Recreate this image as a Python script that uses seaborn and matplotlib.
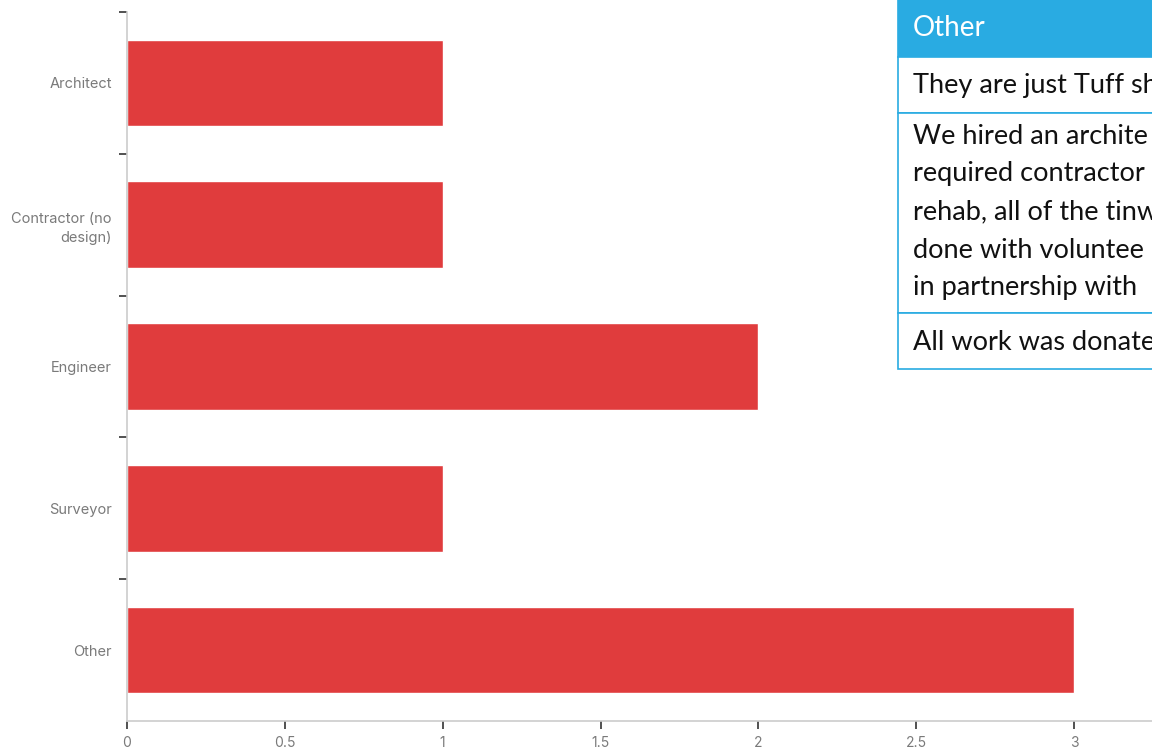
import matplotlib
matplotlib.use("Agg")
import matplotlib.pyplot as plt
from matplotlib.patches import Rectangle
import numpy as np
import pandas as pd
import seaborn as sns

# Survey responses: who designed the project
categories = ["Architect", "Contractor (no\ndesign)", "Engineer", "Surveyor", "Other"]
counts = [1, 1, 2, 1, 3]
x_ticks = [0, 0.5, 1, 1.5, 2, 2.5, 3]
x_tick_labels = ["0", "0.5", "1", "1.5", "2", "2.5", "3"]

# Free-text answers for "Other" (one list of lines per response)
other_header = "Other"
other_answers = [
    ["They are just Tuff sh"],
    ["We hired an archite",
     "required contractor",
     "rehab, all of the tinw",
     "done with voluntee",
     "in partnership with"],
    ["All work was donate"],
]

BAR_RED = "#E03C3D"
HEAD_BLUE = "#29ABE2"
LABEL_GREY = "#7a7a7a"

sns.set_style("white")
plt.rcParams["font.family"] = ["Inter", "DejaVu Sans"]

fig = plt.figure(figsize=(11.52, 7.48), dpi=100)
ax = fig.add_axes([127 / 1152, 27 / 748, 1 - 127 / 1152, 709 / 748])

df = pd.DataFrame({"category": categories, "count": counts})
sns.barplot(data=df, x="count", y="category", orient="h", color=BAR_RED,
            saturation=1, width=0.61, ax=ax)

ax.set_xlim(0, (1152 - 127) / (1074 - 127) * 3)
ax.set_ylim(len(categories) - 0.5, -0.5)
ax.set_xlabel("")
ax.set_ylabel("")

# x axis
ax.set_xticks(x_ticks)
ax.set_xticklabels(x_tick_labels)
ax.tick_params(axis="x", which="major", length=6, width=1.2, color="#333333",
               labelcolor=LABEL_GREY, labelsize=10, pad=5, direction="out", bottom=True)

# y axis: tick marks between categories, labels centred on bars
ax.set_yticks(np.arange(-0.5, len(categories) - 1, 1.0))
ax.set_yticklabels([])
ax.tick_params(axis="y", which="major", length=6, width=1.2, color="#333333",
               direction="out", left=True)
ax.set_yticks(np.arange(len(categories)), minor=True)
ax.set_yticklabels(categories, minor=True)
ax.tick_params(axis="y", which="minor", length=0, labelcolor=LABEL_GREY,
               labelsize=10.5, pad=11)
for lbl in ax.get_yticklabels(minor=True):
    lbl.set_horizontalalignment("right")
    lbl.set_multialignment("right")
    lbl.set_linespacing(1.45)

for side in ["top", "right"]:
    ax.spines[side].set_visible(False)
for side in ["left", "bottom"]:
    ax.spines[side].set_color("#cccccc")
    ax.spines[side].set_linewidth(1.2)

# "Other" responses table overlaid on the right
W, H = 1152.0, 748.0
tx0 = 898
rows = [(0, 57), (57, 113), (113, 313), (313, 369)]
first_line = [85, 136, 342]
line_step = 38


def fx(px):
    return px / W


def fy(py):
    return 1 - py / H


head_top, head_bot = rows[0]
fig.patches.append(Rectangle((fx(tx0), fy(head_bot)), 1 - fx(tx0), (head_bot - head_top) / H,
                             transform=fig.transFigure, facecolor=HEAD_BLUE,
                             edgecolor=HEAD_BLUE, lw=1.2, zorder=5))
for top, bot in rows[1:]:
    fig.patches.append(Rectangle((fx(tx0), fy(bot)), 1.2 - fx(tx0), (bot - top) / H,
                                 transform=fig.transFigure, facecolor="white",
                                 edgecolor=HEAD_BLUE, lw=1.2, zorder=5))

cell_font = ["Lato", "DejaVu Sans"]
fig.text(fx(913), fy(28), other_header, color="white", fontsize=20,
         family=cell_font, va="center", ha="left", zorder=6)
for y0, lines in zip(first_line, other_answers):
    for i, line in enumerate(lines):
        fig.text(fx(913), fy(y0 + i * line_step), line, color="#111111",
                 fontsize=19.5, family=cell_font, va="center", ha="left", zorder=6)

fig.savefig("out.png", dpi=100)
